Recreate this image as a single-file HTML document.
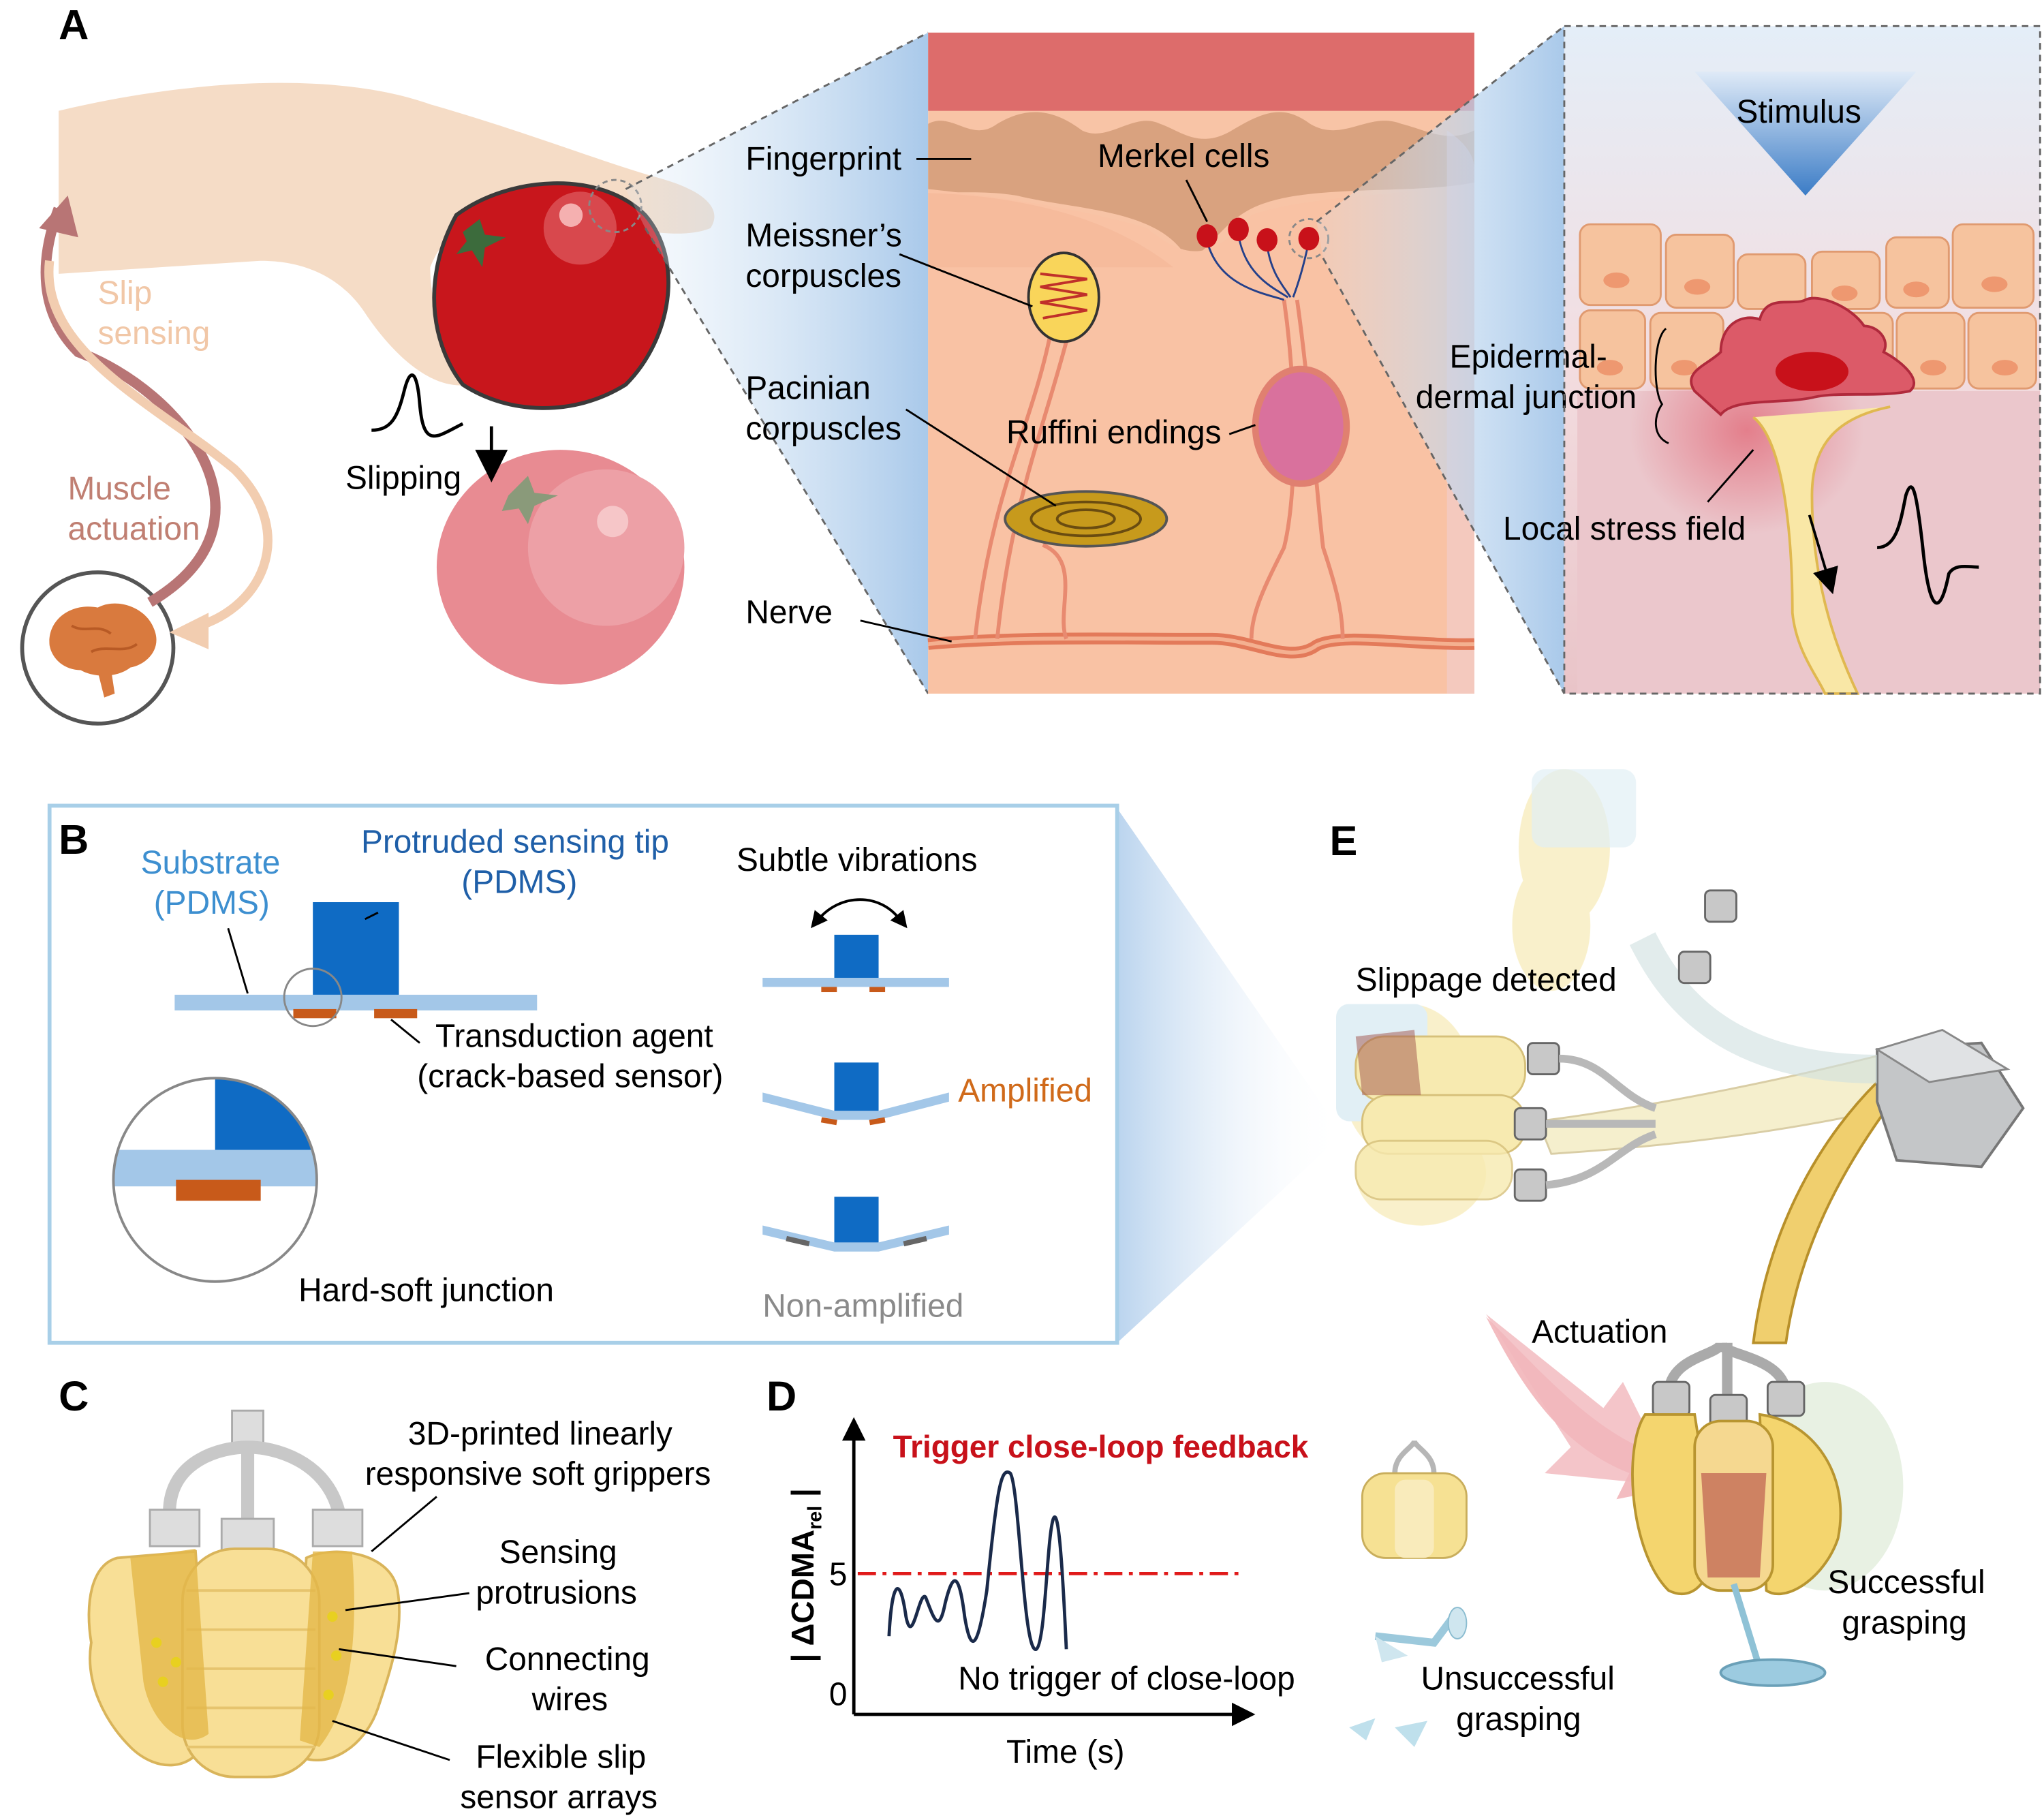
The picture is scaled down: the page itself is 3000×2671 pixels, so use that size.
<!DOCTYPE html>
<html><head><meta charset="utf-8"><style>
html,body{margin:0;padding:0;background:#fff}
svg{display:block}
text{font-family:"Liberation Sans",Arial,sans-serif}
</style></head><body>
<svg width="3000" height="2671" viewBox="0 0 1568 1396" xmlns="http://www.w3.org/2000/svg" font-size="25">
<defs>
<linearGradient id="bl" x1="0" x2="1" y1="0" y2="0"><stop offset="0" stop-color="#dbe9f6" stop-opacity="0.2"/><stop offset="1" stop-color="#a9c9ea"/></linearGradient>
<linearGradient id="blB" x1="0" x2="1"><stop offset="0" stop-color="#a9c9ea"/><stop offset="1" stop-color="#ffffff" stop-opacity="0"/></linearGradient>
<linearGradient id="rp" x1="0" y1="0" x2="0" y2="1"><stop offset="0" stop-color="#e4eef8"/><stop offset="0.5" stop-color="#f3dde0"/><stop offset="1" stop-color="#e9c4c8"/></linearGradient>
<linearGradient id="stim" x1="0" y1="0" x2="0" y2="1"><stop offset="0" stop-color="#dfeaf7"/><stop offset="1" stop-color="#3b7cc6"/></linearGradient>
<radialGradient id="stress" cx="0.5" cy="0.5" r="0.5"><stop offset="0" stop-color="#e06070" stop-opacity="0.7"/><stop offset="1" stop-color="#e06070" stop-opacity="0"/></radialGradient>
<marker id="ah" markerWidth="10" markerHeight="10" refX="8" refY="5" orient="auto"><path d="M0,0 L10,5 L0,10 z" fill="#000"/></marker>
</defs>

<!-- ===== Panel A ===== -->
<text x="45" y="30" font-size="32" font-weight="bold">A</text>
<path d="M45,85 C150,60 260,55 330,80 C400,100 450,120 500,135 C540,145 555,160 545,175 C520,185 480,175 440,165 L380,150 C360,165 340,180 330,205 C330,240 345,270 360,295 C330,300 300,270 280,240 C260,210 230,200 200,200 L45,210 Z" fill="#f5dcc6"/>
<path d="M350,165 C390,135 460,130 495,165 C525,200 515,260 480,295 C440,320 390,318 355,295 C335,270 320,220 350,165 Z" fill="#c8161c" stroke="#3a3a3a" stroke-width="3"/>
<circle cx="445" cy="175" r="28" fill="#e36a6e" opacity="0.6"/>
<circle cx="438" cy="165" r="9" fill="#f5b0b0"/>
<polygon points="355,178 368,168 372,180 388,182 372,190 370,205 362,192 350,195 358,185" fill="#3c6b3c"/>
<circle cx="472" cy="158" r="20" fill="none" stroke="#888" stroke-dasharray="4,3" stroke-width="1.5"/>
<ellipse cx="430" cy="435" rx="95" ry="90" fill="#e88b92"/>
<ellipse cx="465" cy="420" rx="60" ry="60" fill="#eda0a6"/>
<circle cx="470" cy="400" r="12" fill="#f6c6c8"/>
<polygon points="390,380 405,365 410,378 428,380 410,388 405,402 398,390 385,392" fill="#8a9a7a"/>
<path d="M285,330 C300,330 305,320 310,300 C315,280 320,285 322,310 C325,345 335,335 355,325" fill="none" stroke="#000" stroke-width="2.5"/>
<line x1="377" y1="327" x2="377" y2="365" stroke="#000" stroke-width="2.5" marker-end="url(#ah)"/>
<text x="265" y="375">Slipping</text>
<circle cx="75" cy="497" r="58" fill="#fff" stroke="#555" stroke-width="3"/>
<path d="M38,495 C36,475 55,462 75,466 C90,458 112,466 118,482 C125,498 112,510 100,512 C90,520 72,520 62,514 C50,514 40,506 38,495 Z" fill="#d97a3e"/>
<path d="M55,480 C65,486 75,478 85,486 M70,500 C80,494 95,502 105,494" stroke="#b85a25" stroke-width="2" fill="none"/>
<path d="M75,515 L80,535 L88,532 L85,512Z" fill="#d97a3e"/>
<path d="M115,462 C220,400 140,300 60,270 C30,240 30,200 45,160" fill="none" stroke="#b87575" stroke-width="8"/>
<polygon points="30,175 52,150 60,182" fill="#b87575"/>
<path d="M38,200 C30,270 120,310 180,360 C230,410 200,470 145,482" fill="none" stroke="#f2cdb0" stroke-width="7"/>
<polygon points="160,470 130,485 160,498" fill="#f2cdb0"/>
<text x="75" y="233" fill="#f1c7a7">Slip</text>
<text x="75" y="264" fill="#f1c7a7">sensing</text>
<text x="52" y="383" fill="#c07f72">Muscle</text>
<text x="52" y="414" fill="#c07f72">actuation</text>

<polygon points="480,145 712,25 712,532 495,175" fill="url(#bl)"/>
<line x1="480" y1="145" x2="712" y2="25" stroke="#666" stroke-dasharray="5,4" stroke-width="1.5"/>
<line x1="495" y1="175" x2="712" y2="532" stroke="#666" stroke-dasharray="5,4" stroke-width="1.5"/>

<rect x="712" y="25" width="419" height="507" fill="#f8c4a6"/>
<rect x="712" y="25" width="419" height="60" fill="#dd6c6b"/>
<path d="M712,95 C730,85 745,110 765,95 C790,80 810,85 830,100 C850,110 870,85 890,95 C905,100 920,115 945,100 C970,85 985,80 1005,95 C1030,110 1050,85 1075,95 C1095,100 1110,110 1131,100 L1131,140 C1080,150 1000,140 960,160 C930,175 920,210 905,190 C880,160 820,160 780,150 C750,145 725,150 712,145 Z" fill="#d9a27f"/>
<path d="M712,145 C760,150 830,160 880,175 C910,200 930,200 960,165 C1000,150 1080,150 1131,140 L1131,532 L712,532Z" fill="#f9c2a4"/>
<path d="M712,148 C780,150 850,165 900,205 L712,205Z" fill="#f4b598" opacity="0.6"/>
<path d="M1110,100 C1125,110 1131,120 1131,130 L1131,532 L1110,532Z" fill="#f0d0d8" opacity="0.5"/>
<path d="M712,494 C780,488 850,490 930,490 C960,490 990,510 1010,495 C1030,485 1080,495 1131,494" fill="none" stroke="#e37a5a" stroke-width="9"/>
<path d="M712,494 C780,488 850,490 930,490 C960,490 990,510 1010,495 C1030,485 1080,495 1131,494" fill="none" stroke="#f4b090" stroke-width="3"/>
<g fill="none" stroke="#e88a70" stroke-width="3">
<path d="M805,260 C790,330 760,380 748,490"/>
<path d="M818,262 C800,330 775,390 765,490"/>
<path d="M800,418 C830,430 810,470 818,490"/>
<path d="M985,230 C995,300 995,380 985,420 C970,450 960,470 960,490"/>
<path d="M995,230 C1005,300 1010,380 1015,420 C1025,450 1030,470 1030,490"/>
</g>
<ellipse cx="816" cy="228" rx="27" ry="34" fill="#f9d55a" stroke="#333" stroke-width="2"/>
<path d="M798,210 L834,214 L798,220 L834,226 L798,232 L834,238 L800,244" fill="none" stroke="#c0302a" stroke-width="2"/>
<ellipse cx="833" cy="398" rx="62" ry="21" fill="#c79a1c" stroke="#555" stroke-width="2"/>
<ellipse cx="833" cy="398" rx="42" ry="13" fill="none" stroke="#6a4c10" stroke-width="2"/>
<ellipse cx="833" cy="398" rx="22" ry="7" fill="none" stroke="#6a4c10" stroke-width="2"/>
<ellipse cx="998" cy="327" rx="35" ry="44" fill="#d9719d" stroke="#e08070" stroke-width="5"/>
<g stroke="#24408a" fill="none" stroke-width="1.5"><path d="M926,185 C935,220 970,225 985,230"/><path d="M950,180 C955,210 975,220 988,228"/><path d="M972,188 C975,210 985,220 990,228"/><path d="M1004,185 C1000,205 995,220 992,228"/></g>
<g fill="#c8111a"><ellipse cx="926" cy="181" rx="8" ry="9"/><ellipse cx="950" cy="176" rx="8" ry="9"/><ellipse cx="972" cy="184" rx="8" ry="9"/><ellipse cx="1004" cy="183" rx="8" ry="9"/></g>
<circle cx="1004" cy="183" r="15" fill="none" stroke="#888" stroke-dasharray="4,3" stroke-width="1.5"/>
<text x="572" y="130">Fingerprint</text>
<line x1="703" y1="122" x2="745" y2="122" stroke="#000" stroke-width="1.5"/>
<text x="842" y="128">Merkel cells</text>
<line x1="910" y1="138" x2="926" y2="170" stroke="#000" stroke-width="1.5"/>
<text x="572" y="189">Meissner’s</text>
<text x="572" y="220">corpuscles</text>
<line x1="690" y1="195" x2="792" y2="235" stroke="#000" stroke-width="1.5"/>
<text x="572" y="306">Pacinian</text>
<text x="572" y="337">corpuscles</text>
<line x1="695" y1="314" x2="810" y2="388" stroke="#000" stroke-width="1.5"/>
<text x="772" y="340">Ruffini endings</text>
<line x1="943" y1="333" x2="963" y2="326" stroke="#000" stroke-width="1.5"/>
<text x="572" y="478">Nerve</text>
<line x1="660" y1="476" x2="730" y2="492" stroke="#000" stroke-width="1.5"/>

<polygon points="1010,170 1200,20 1200,532 1015,198" fill="url(#bl)"/>
<line x1="1010" y1="170" x2="1200" y2="20" stroke="#666" stroke-dasharray="5,4" stroke-width="1.5"/>
<line x1="1015" y1="198" x2="1200" y2="532" stroke="#666" stroke-dasharray="5,4" stroke-width="1.5"/>
<rect x="1200" y="20" width="365" height="512" fill="url(#rp)"/>
<rect x="1210" y="300" width="355" height="232" fill="#ebc7cc"/>
<ellipse cx="1340" cy="330" rx="90" ry="80" fill="url(#stress)"/>
<polygon points="1300,55 1470,55 1385,150" fill="url(#stim)"/>
<text x="1332" y="94">Stimulus</text>
<g fill="#f6c39e" stroke="#e09a70" stroke-width="1.5">
<rect x="1212" y="172" width="62" height="62" rx="8"/><rect x="1278" y="180" width="52" height="56" rx="8"/><rect x="1333" y="195" width="52" height="42" rx="8"/><rect x="1390" y="193" width="52" height="44" rx="8"/><rect x="1447" y="182" width="48" height="54" rx="8"/><rect x="1498" y="172" width="62" height="64" rx="8"/>
<rect x="1212" y="238" width="50" height="60" rx="8"/><rect x="1266" y="240" width="56" height="58" rx="8"/><rect x="1396" y="240" width="56" height="58" rx="8"/><rect x="1455" y="240" width="52" height="58" rx="8"/><rect x="1510" y="240" width="52" height="58" rx="8"/>
</g>
<g fill="#ee9870"><ellipse cx="1240" cy="215" rx="10" ry="6"/><ellipse cx="1302" cy="220" rx="10" ry="6"/><ellipse cx="1415" cy="225" rx="10" ry="6"/><ellipse cx="1470" cy="222" rx="10" ry="6"/><ellipse cx="1530" cy="218" rx="10" ry="6"/><ellipse cx="1235" cy="282" rx="10" ry="6"/><ellipse cx="1292" cy="282" rx="10" ry="6"/><ellipse cx="1425" cy="282" rx="10" ry="6"/><ellipse cx="1483" cy="282" rx="10" ry="6"/><ellipse cx="1538" cy="282" rx="10" ry="6"/></g>
<path d="M1345,320 C1370,340 1375,420 1375,470 C1378,500 1395,520 1400,532 L1425,532 C1405,490 1390,440 1390,380 C1390,340 1410,320 1450,312" fill="#f9e7a6" stroke="#e0b850" stroke-width="2"/>
<path d="M1300,300 C1290,285 1310,280 1320,270 C1320,250 1335,240 1350,245 C1355,225 1375,235 1385,230 C1395,225 1420,235 1430,250 C1440,250 1450,260 1445,270 C1460,278 1475,292 1465,300 C1440,305 1410,300 1390,305 C1365,310 1330,305 1320,318 Z" fill="#dc5a68" stroke="#b02a3c" stroke-width="2"/>
<ellipse cx="1390" cy="285" rx="28" ry="15" fill="#c8111a"/>
<path d="M1278,252 C1268,260 1268,300 1275,310 C1268,320 1268,335 1280,340" fill="none" stroke="#000" stroke-width="1.5"/>
<text x="1112" y="282">Epidermal-</text>
<text x="1086" y="313">dermal junction</text>
<text x="1153" y="414">Local stress field</text>
<line x1="1310" y1="385" x2="1345" y2="345" stroke="#000" stroke-width="1.5"/>
<line x1="1388" y1="395" x2="1405" y2="452" stroke="#000" stroke-width="2" marker-end="url(#ah)"/>
<path d="M1440,420 C1455,420 1458,400 1462,380 C1467,365 1470,375 1475,420 C1480,470 1488,475 1495,440 C1500,432 1510,435 1518,435" fill="none" stroke="#000" stroke-width="2.5"/>
<rect x="1200" y="20" width="365" height="512" fill="none" stroke="#666" stroke-dasharray="5,4" stroke-width="1.5"/>

<!-- ===== Panel B ===== -->
<polygon points="857,620 1030,870 857,1030" fill="url(#blB)" opacity="0.8"/>
<rect x="38" y="618" width="819" height="412" fill="#fff" stroke="#a8cfe8" stroke-width="3"/>
<text x="45" y="655" font-size="32" font-weight="bold">B</text>
<text x="108" y="670" fill="#3d8fd0">Substrate</text>
<text x="118" y="701" fill="#3d8fd0">(PDMS)</text>
<text x="277" y="654" fill="#1f5fa8">Protruded sensing tip</text>
<text x="354" y="685" fill="#1f5fa8">(PDMS)</text>
<rect x="134" y="763" width="278" height="12" fill="#a3c7e8"/>
<rect x="240" y="692" width="66" height="71" fill="#0f6bc4"/>
<line x1="290" y1="700" x2="280" y2="705" stroke="#000" stroke-width="1.5"/>
<rect x="225" y="774" width="33" height="7" fill="#c85a1a"/><rect x="287" y="774" width="33" height="7" fill="#c85a1a"/>
<line x1="175" y1="712" x2="190" y2="762" stroke="#000" stroke-width="1.5"/>
<circle cx="240" cy="765" r="22" fill="none" stroke="#888" stroke-width="1.5"/>
<line x1="300" y1="782" x2="322" y2="800" stroke="#000" stroke-width="1.5"/>
<text x="334" y="803">Transduction agent</text>
<text x="320" y="834">(crack-based sensor)</text>
<clipPath id="zc"><circle cx="165" cy="905" r="78"/></clipPath>
<g clip-path="url(#zc)"><rect x="80" y="820" width="170" height="170" fill="#fff"/><rect x="80" y="882" width="170" height="28" fill="#a3c7e8"/><rect x="165" y="820" width="90" height="62" fill="#0f6bc4"/><rect x="135" y="905" width="65" height="16" fill="#c85a1a"/></g>
<circle cx="165" cy="905" r="78" fill="none" stroke="#888" stroke-width="2"/>
<text x="229" y="998">Hard-soft junction</text>
<text x="565" y="668">Subtle vibrations</text>
<path d="M628,705 C645,685 675,685 690,705" fill="none" stroke="#000" stroke-width="2"/>
<polygon points="622,712 625,698 635,706" fill="#000"/><polygon points="696,712 693,698 683,706" fill="#000"/>
<rect x="585" y="750" width="143" height="7" fill="#a3c7e8"/>
<rect x="640" y="717" width="34" height="33" fill="#0f6bc4"/>
<rect x="630" y="757" width="12" height="4" fill="#c85a1a"/><rect x="667" y="757" width="12" height="4" fill="#c85a1a"/>
<path d="M585,838 L640,852 L674,852 L728,838 L728,845 L674,859 L640,859 L585,845Z" fill="#a3c7e8"/>
<rect x="640" y="815" width="34" height="37" fill="#0f6bc4"/>
<rect x="630" y="858" width="12" height="4" fill="#c85a1a" transform="rotate(10 636 860)"/><rect x="667" y="858" width="12" height="4" fill="#c85a1a" transform="rotate(-10 673 860)"/>
<text x="735" y="845" fill="#d06a1a">Amplified</text>
<path d="M585,940 L640,953 L674,953 L728,940 L728,947 L674,960 L640,960 L585,947Z" fill="#a3c7e8"/>
<rect x="640" y="918" width="34" height="35" fill="#0f6bc4"/>
<rect x="603" y="950" width="18" height="4" fill="#666" transform="rotate(13 612 952)"/><rect x="693" y="950" width="18" height="4" fill="#666" transform="rotate(-13 702 952)"/>
<text x="585" y="1010" fill="#8a8a8a">Non-amplified</text>

<!-- ===== Panel C ===== -->
<text x="45" y="1082" font-size="32" font-weight="bold">C</text>
<g stroke="#aaa" fill="#ddd" stroke-width="1.5">
<rect x="178" y="1082" width="24" height="30"/>
<path d="M130,1160 C130,1120 170,1110 190,1110 C210,1110 250,1120 260,1160" fill="none" stroke="#c8c8c8" stroke-width="10"/>
<line x1="190" y1="1110" x2="190" y2="1165" stroke="#c8c8c8" stroke-width="10"/>
<rect x="115" y="1158" width="38" height="28"/><rect x="170" y="1165" width="40" height="28"/><rect x="240" y="1158" width="38" height="28"/>
</g>
<g fill="#f8df96" stroke="#d9b45a" stroke-width="2">
<path d="M90,1195 C70,1200 65,1230 70,1260 C65,1290 80,1320 100,1340 C120,1360 150,1360 160,1330 L150,1190 Z"/>
<path d="M235,1195 C255,1185 300,1190 305,1220 C310,1250 300,1280 290,1310 C280,1340 250,1360 225,1345 Z"/>
<rect x="140" y="1188" width="105" height="175" rx="40"/>
</g>
<g stroke="#e6c46e" stroke-width="2" fill="none"><path d="M143,1220 H242 M143,1250 H242 M143,1280 H242 M143,1310 H242 M143,1340 H242"/></g>
<path d="M100,1195 L150,1188 L160,1330 C140,1345 115,1320 110,1290Z" fill="#e4b84a" opacity="0.8"/>
<path d="M240,1190 L270,1190 C275,1250 270,1310 245,1340 L230,1335Z" fill="#e4b84a" opacity="0.8"/>
<g fill="#e8d020"><circle cx="120" cy="1260" r="4"/><circle cx="135" cy="1275" r="4"/><circle cx="125" cy="1290" r="4"/><circle cx="255" cy="1240" r="4"/><circle cx="258" cy="1270" r="4"/><circle cx="252" cy="1300" r="4"/></g>
<text x="313" y="1108">3D-printed linearly</text>
<text x="280" y="1139">responsive soft grippers</text>
<line x1="285" y1="1190" x2="335" y2="1148" stroke="#000" stroke-width="1.5"/>
<text x="383" y="1199">Sensing</text>
<text x="365" y="1230">protrusions</text>
<line x1="265" y1="1235" x2="360" y2="1222" stroke="#000" stroke-width="1.5"/>
<text x="372" y="1281">Connecting</text>
<text x="408" y="1312">wires</text>
<line x1="260" y1="1265" x2="350" y2="1278" stroke="#000" stroke-width="1.5"/>
<text x="365" y="1356">Flexible slip</text>
<text x="353" y="1387">sensor arrays</text>
<line x1="255" y1="1320" x2="345" y2="1350" stroke="#000" stroke-width="1.5"/>

<!-- ===== Panel D ===== -->
<text x="588" y="1082" font-size="32" font-weight="bold">D</text>
<line x1="655" y1="1315" x2="655" y2="1100" stroke="#000" stroke-width="2.5"/>
<polygon points="646,1105 655,1087 664,1105" fill="#000"/>
<line x1="655" y1="1315" x2="950" y2="1315" stroke="#000" stroke-width="2.5"/>
<polygon points="945,1306 963,1315 945,1324" fill="#000"/>
<text x="636" y="1308">0</text>
<text x="636" y="1216">5</text>
<text transform="translate(624,1275) rotate(-90)" font-size="24" font-weight="bold">| ΔCDMA<tspan font-size="15" dy="6">rel</tspan><tspan dy="-6"> |</tspan></text>
<line x1="658" y1="1207" x2="950" y2="1207" stroke="#e01a1a" stroke-width="2.5" stroke-dasharray="14,5,3,5"/>
<text x="685" y="1118" font-size="24" font-weight="bold" fill="#c8111a">Trigger close-loop feedback</text>
<path d="M682,1255 C684,1215 690,1205 695,1240 C700,1265 705,1220 710,1225 C716,1240 720,1255 725,1230 C730,1210 735,1200 740,1240 C745,1270 750,1265 757,1220 C765,1140 768,1125 775,1130 C782,1140 785,1270 795,1265 C802,1260 803,1180 808,1165 C812,1155 815,1200 818,1265" fill="none" stroke="#1a2a4a" stroke-width="2.5"/>
<text x="735" y="1296">No trigger of close-loop</text>
<text x="772" y="1352">Time (s)</text>

<!-- ===== Panel E ===== -->
<text x="1020" y="656" font-size="32" font-weight="bold">E</text>
<path d="M1180,860 C1260,850 1360,830 1440,810 L1450,850 C1360,870 1270,880 1190,885Z" fill="#f1e9b8" stroke="#c9b980" stroke-width="1.5" opacity="0.7"/>
<path d="M1455,840 C1410,900 1380,960 1370,1030 L1345,1030 C1355,950 1390,880 1440,830Z" fill="#f0cf6e" stroke="#b8902a" stroke-width="2"/>
<path d="M1440,805 L1520,800 L1552,850 L1520,895 L1455,890 L1440,845Z" fill="#c4c6c8" stroke="#777" stroke-width="2"/>
<path d="M1440,805 L1490,790 L1540,820 L1480,830Z" fill="#e0e2e4" stroke="#888" stroke-width="1.5"/>
<path d="M1260,720 C1280,760 1320,820 1440,820" fill="none" stroke="#cfe0e0" stroke-width="22" opacity="0.6"/>
<g opacity="0.6">
<ellipse cx="1200" cy="650" rx="35" ry="60" fill="#f6e7a8"/><ellipse cx="1190" cy="710" rx="30" ry="50" fill="#f6e7a8"/>
<rect x="1175" y="590" width="80" height="60" rx="10" fill="#cde4ee" opacity="0.7"/>
<ellipse cx="1080" cy="830" rx="50" ry="60" fill="#f6e7a8"/><ellipse cx="1090" cy="900" rx="50" ry="40" fill="#f6e7a8"/>
<rect x="1025" y="770" width="70" height="90" rx="10" fill="#cde4ee"/>
</g>
<g fill="#f7eab0" stroke="#d6c07a" stroke-width="1.5">
<rect x="1040" y="795" width="130" height="50" rx="22"/><rect x="1045" y="840" width="125" height="45" rx="20"/>
<rect x="1040" y="875" width="120" height="45" rx="20" opacity="0.8"/>
</g>
<path d="M1040,795 L1085,790 L1090,840 L1045,840Z" fill="#a0524a" opacity="0.5"/>
<g fill="#c8c8c8" stroke="#666" stroke-width="1.5">
<rect x="1172" y="800" width="24" height="24" rx="4"/><rect x="1162" y="850" width="24" height="24" rx="4"/><rect x="1162" y="897" width="24" height="24" rx="4"/>
<rect x="1308" y="683" width="24" height="24" rx="4"/><rect x="1288" y="730" width="24" height="24" rx="4"/>
</g>
<path d="M1196,812 C1230,812 1240,840 1270,850 M1186,862 L1270,862 M1186,909 C1230,905 1240,880 1270,870" fill="none" stroke="#b8b8b8" stroke-width="6"/>
<text x="1040" y="760">Slippage detected</text>
<path d="M1140,1010 C1170,1070 1200,1110 1250,1130 L1240,1150 L1290,1140 L1268,1095 L1258,1110 C1215,1090 1180,1050 1140,1010Z" fill="#f3bcc0"/>
<path d="M1140,1008 L1230,1080 L1245,1060 L1285,1140 L1185,1130 L1205,1110 Z" fill="#f1b6bc" opacity="0.8"/>
<text x="1175" y="1030">Actuation</text>
<g fill="#d8e8d0" opacity="0.6"><ellipse cx="1400" cy="1140" rx="60" ry="80"/></g>
<g stroke="#aaa" stroke-width="8" fill="none"><path d="M1280,1070 C1280,1040 1320,1040 1320,1030 C1320,1040 1370,1040 1370,1070"/><line x1="1325" y1="1030" x2="1325" y2="1075"/></g>
<g fill="#c8c8c8" stroke="#666" stroke-width="1.5"><rect x="1268" y="1060" width="28" height="26" rx="4"/><rect x="1312" y="1070" width="28" height="26" rx="4"/><rect x="1356" y="1060" width="28" height="26" rx="4"/></g>
<path d="M1262,1085 C1245,1110 1250,1190 1280,1220 C1300,1230 1315,1210 1315,1180 L1300,1085Z" fill="#f4d56e" stroke="#b89530" stroke-width="2"/>
<path d="M1350,1085 C1390,1090 1420,1130 1410,1180 C1400,1210 1370,1230 1355,1220Z" fill="#f4d56e" stroke="#b89530" stroke-width="2"/>
<rect x="1300" y="1090" width="60" height="130" rx="20" fill="#f5d890" stroke="#b89530" stroke-width="2"/>
<path d="M1305,1130 L1355,1130 L1350,1210 L1310,1210Z" fill="#b9544a" opacity="0.65"/>
<path d="M1330,1215 L1350,1280" stroke="#8fc2d6" stroke-width="5"/>
<ellipse cx="1360" cy="1283" rx="40" ry="10" fill="#9ccbe0" stroke="#6aa0b8" stroke-width="2"/>
<text x="1402" y="1222">Successful</text>
<text x="1413" y="1253">grasping</text>
<g opacity="0.85">
<path d="M1070,1130 C1070,1115 1085,1110 1085,1105 C1085,1110 1100,1115 1100,1130" fill="none" stroke="#aaa" stroke-width="4"/>
<rect x="1045" y="1130" width="80" height="65" rx="18" fill="#f5dc80" stroke="#c0a040" stroke-width="1.5"/>
<rect x="1070" y="1135" width="30" height="60" rx="8" fill="#f8e8b0"/>
</g>
<path d="M1055,1255 L1100,1260 L1115,1240 M1115,1240 L1120,1250" fill="none" stroke="#9cc9dc" stroke-width="6"/>
<ellipse cx="1118" cy="1245" rx="7" ry="12" fill="#cfe6ef" stroke="#8abcd0"/>
<polygon points="1055,1255 1080,1270 1060,1275" fill="#cfe6ef"/>
<polygon points="1035,1325 1055,1318 1048,1335" fill="#bfe0ec"/><polygon points="1070,1325 1095,1320 1085,1340" fill="#bfe0ec"/>
<text x="1090" y="1296">Unsuccessful</text>
<text x="1117" y="1327">grasping</text>
</svg>
</body></html>
